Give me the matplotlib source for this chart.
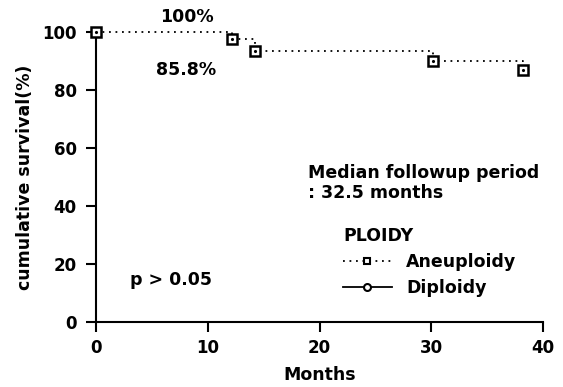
import matplotlib
matplotlib.use("Agg")
import matplotlib.pyplot as plt
from matplotlib.lines import Line2D

# Aneuploidy survival curve (months, cumulative survival %)
months = [0, 12.2, 14.2, 30.2, 38.2]
survival = [100, 97.6, 93.4, 90.0, 86.9]

x_ticks = [0, 10, 20, 30, 40]
y_ticks = [0, 20, 40, 60, 80, 100]

plt.rcParams['font.family'] = ['DejaVu Sans']
plt.rcParams['font.weight'] = 'bold'
plt.rcParams['axes.labelweight'] = 'bold'
plt.rcParams['font.size'] = 12.5

fig = plt.figure(figsize=(5.63, 3.87), dpi=100)
ax = fig.add_axes([0.1705, 0.168, 0.794, 0.749])

dots = (0, (1, 2.6))
ax.plot(months, survival, drawstyle='steps-post', color='black',
        linestyle=dots, lw=1.3, clip_on=False)
ax.plot(months, survival, linestyle='none', marker='s', ms=6.5,
        mfc='white', mec='black', mew=1.8, clip_on=False, zorder=3)
ax.plot(months, survival, linestyle='none', marker='.', ms=2.5,
        color='black', clip_on=False, zorder=4)

ax.set_xlim(0, 40)
ax.set_ylim(0, 100)
ax.set_xticks(x_ticks)
ax.set_yticks(y_ticks)
for s in ['top', 'right']:
    ax.spines[s].set_visible(False)
for s in ['left', 'bottom']:
    ax.spines[s].set_linewidth(1.5)
ax.tick_params(length=7, width=1.5, labelsize=12)
ax.tick_params(axis='x', pad=5)
ax.tick_params(axis='y', pad=7)

ax.set_xlabel('Months', labelpad=7)
ax.set_ylabel('cumulative survival(%)', labelpad=6)

ax.text(8.1, 105.2, '100%', ha='center', va='center', clip_on=False)
ax.text(8.1, 86.9, '85.8%', ha='center', va='center')
ax.text(3.0, 14.5, 'p > 0.05', ha='left', va='center')
ax.text(19.0, 47.8, 'Median followup period\n: 32.5 months',
        ha='left', va='center', linespacing=1.15)

handles = [
    Line2D([], [], color='black', linestyle=dots, lw=1.3, marker='s',
           ms=5, mfc='white', mec='black', mew=1.5),
    Line2D([], [], color='black', linestyle='-', lw=1.3, marker='o',
           ms=5, mfc='white', mec='black', mew=1.5),
]
leg = ax.legend(handles, ['Aneuploidy', 'Diploidy'], title='PLOIDY',
                loc='upper left', bbox_to_anchor=(343 / 563, 1 - 227 / 387),
                bbox_transform=fig.transFigure, frameon=False, borderpad=0,
                handlelength=2.8, handletextpad=0.85, labelspacing=0.45,
                alignment='left', title_fontsize=12.5, borderaxespad=0,
                prop={'weight': 'bold', 'size': 12.5})
leg.get_title().set_fontweight('bold')

fig.savefig('out.png', dpi=100)
